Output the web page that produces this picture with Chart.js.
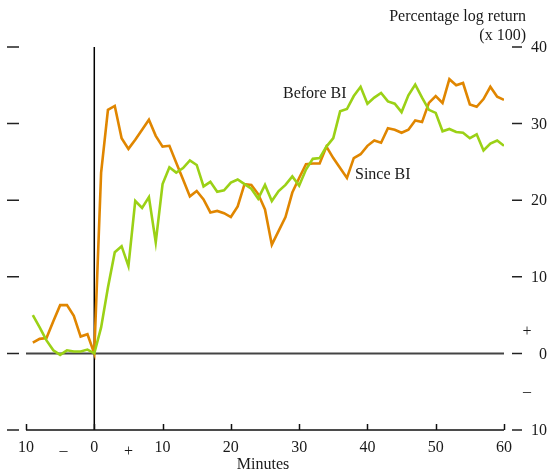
<!DOCTYPE html>
<html>
<head>
<meta charset="utf-8">
<script src="https://cdn.jsdelivr.net/npm/chart.js@4/dist/chart.umd.min.js"></script>
<style>
    html, body { margin: 0; padding: 0; background: #fff; }
    #wrap { width: 550px; height: 474px; }
</style>
</head>
<body>
<div id="wrap"><canvas id="bi-chart" width="550" height="474"></canvas></div>
<script>
// Minutes around the announcement
const minutes = [-9, -8, -7, -6, -5, -4, -3, -2, -1, 0,
    1, 2, 3, 4, 5, 6, 7, 8, 9, 10,
    11, 12, 13, 14, 15, 16, 17, 18, 19, 20,
    21, 22, 23, 24, 25, 26, 27, 28, 29, 30,
    31, 32, 33, 34, 35, 36, 37, 38, 39, 40,
    41, 42, 43, 44, 45, 46, 47, 48, 49, 50,
    51, 52, 53, 54, 55, 56, 57, 58, 59, 60];

const sinceBI = [1.4, 1.9, 2.0, 4.2, 6.3, 6.3, 4.9, 2.2, 2.5, 0,
    23.6, 31.8, 32.3, 28.1, 26.7, 27.9, 29.2, 30.5, 28.4, 27.0,
    27.1, 24.9, 22.7, 20.5, 21.2, 20.1, 18.4, 18.6, 18.3, 17.8,
    19.2, 22.1, 22.0, 20.8, 18.8, 14.2, 16.0, 17.8, 21.0, 22.9,
    24.7, 24.8, 24.8, 27.0, 25.5, 24.2, 22.9, 25.5, 26.0, 27.1,
    27.8, 27.5, 29.4, 29.2, 28.8, 29.2, 30.4, 30.2, 32.7, 33.6,
    32.7, 35.8, 35.0, 35.3, 32.5, 32.2, 33.2, 34.8, 33.5, 33.1];

const beforeBI = [5.0, 3.4, 1.7, 0.4, -0.2, 0.4, 0.25, 0.25, 0.5, 0,
    3.4, 8.6, 13.2, 14.0, 11.4, 19.9, 19.0, 20.4, 14.5, 22.1,
    24.3, 23.6, 24.2, 25.2, 24.6, 21.8, 22.4, 21.1, 21.3, 22.3,
    22.7, 22.1, 21.5, 20.2, 22.0, 19.9, 21.2, 22.0, 23.1, 21.9,
    24.0, 25.4, 25.5, 27.0, 28.1, 31.6, 31.9, 33.6, 34.8, 32.6,
    33.4, 34.0, 32.9, 32.6, 31.5, 33.7, 35.1, 33.4, 31.8, 31.4,
    29.0, 29.3, 28.9, 28.8, 28.1, 28.6, 26.5, 27.4, 27.8, 27.1];

const xTicks = [-10, 0, 10, 20, 30, 40, 50, 60];
const yTicks = [-10, 0, 10, 20, 30, 40];

const FONT = '16px "Liberation Serif", "DejaVu Serif", serif';
const INK = '#1a1a1a';

// Axes, ticks and notes drawn by hand off the chart's own scales
const framePlugin = {
    id: 'frame',
    beforeDatasetsDraw(chart) {
        const { ctx, scales: { x, y } } = chart;
        ctx.save();

        // zero line
        ctx.strokeStyle = '#444';
        ctx.lineWidth = 2;
        ctx.beginPath();
        ctx.moveTo(x.getPixelForValue(-10), y.getPixelForValue(0));
        ctx.lineTo(x.getPixelForValue(60), y.getPixelForValue(0));
        ctx.stroke();

        // announcement line
        ctx.strokeStyle = '#000';
        ctx.lineWidth = 1.5;
        ctx.beginPath();
        ctx.moveTo(x.getPixelForValue(0), y.getPixelForValue(40));
        ctx.lineTo(x.getPixelForValue(0), y.getPixelForValue(-10));
        ctx.stroke();
        ctx.restore();
    },
    afterDatasetsDraw(chart) {
        const { ctx, scales: { x, y } } = chart;
        const base = y.getPixelForValue(-10);
        ctx.save();

        // bottom axis
        ctx.strokeStyle = '#111';
        ctx.lineWidth = 1.5;
        ctx.beginPath();
        ctx.moveTo(x.getPixelForValue(-10), base);
        ctx.lineTo(x.getPixelForValue(60), base);
        xTicks.forEach(v => {
            const px = Math.round(x.getPixelForValue(v)) + 0.5;
            ctx.moveTo(px, base);
            ctx.lineTo(px, base - 6);
        });
        ctx.stroke();

        // side tick marks, detached from the plot
        ctx.strokeStyle = '#222';
        ctx.lineWidth = 1.5;
        ctx.beginPath();
        yTicks.forEach(v => {
            const py = y.getPixelForValue(v);
            ctx.moveTo(7, py);
            ctx.lineTo(19, py);
            ctx.moveTo(512, py);
            ctx.lineTo(522, py);
        });
        ctx.stroke();

        ctx.fillStyle = INK;
        ctx.font = FONT;

        // right labels
        ctx.textAlign = 'right';
        ctx.textBaseline = 'middle';
        yTicks.forEach(v => {
            ctx.fillText(String(Math.abs(v)), 547, y.getPixelForValue(v) + 1);
        });
        ctx.textAlign = 'center';
        ctx.fillText('+', 527, 332);
        ctx.fillText('–', 527, 392);

        // bottom labels
        ctx.fillText('–', x.getPixelForValue(-4.5), 451);
        ctx.fillText('+', x.getPixelForValue(5), 452);
        ctx.textBaseline = 'alphabetic';
        xTicks.forEach(v => {
            ctx.fillText(String(Math.abs(v)), x.getPixelForValue(v), 452);
        });
        ctx.fillText('Minutes', 263, 469);

        // titles and series notes
        ctx.textAlign = 'right';
        ctx.fillText('Percentage log return', 526, 21);
        ctx.fillText('(x 100)', 526, 40);
        ctx.textAlign = 'left';
        ctx.fillText('Before BI', 283, 98);
        ctx.fillText('Since BI', 355, 179);
        ctx.restore();
    }
};

const toPoints = vals => minutes.map((m, i) => ({ x: m, y: vals[i] }));

new Chart(document.getElementById('bi-chart'), {
    type: 'line',
    data: {
        datasets: [{
            label: 'Before BI',
            data: toPoints(beforeBI),
            borderColor: '#9bd116',
            borderWidth: 2.6,
            pointRadius: 0,
            tension: 0
        }, {
            label: 'Since BI',
            data: toPoints(sinceBI),
            borderColor: '#e08600',
            borderWidth: 2.6,
            pointRadius: 0,
            tension: 0
        }]
    },
    options: {
        responsive: false,
        animation: false,
        layout: { padding: { left: 26, right: 46, top: 47, bottom: 44 } },
        scales: {
            x: { type: 'linear', min: -10, max: 60, display: false },
            y: { min: -10, max: 40, display: false }
        },
        plugins: {
            legend: { display: false },
            tooltip: { enabled: false }
        }
    },
    plugins: [framePlugin]
});
</script>
</body>
</html>
